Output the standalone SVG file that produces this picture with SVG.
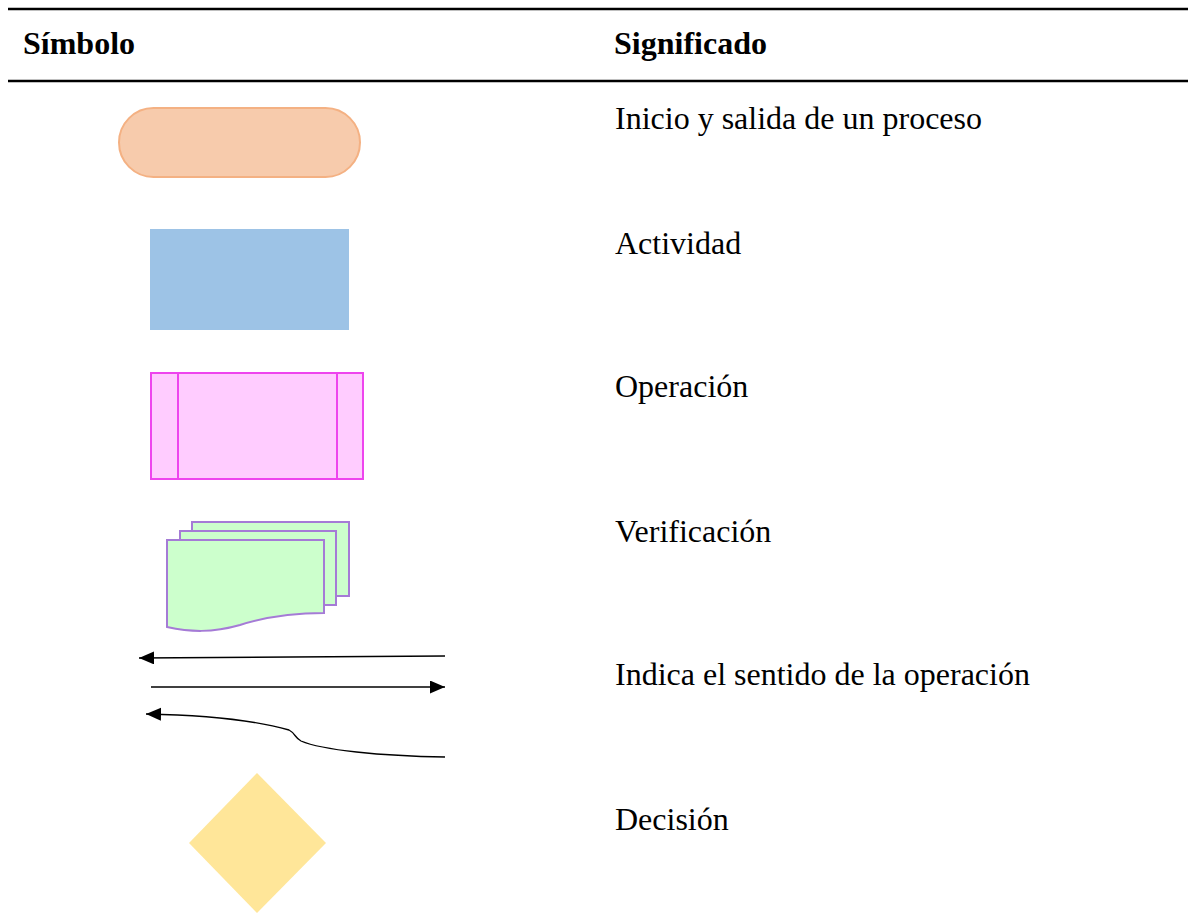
<svg xmlns="http://www.w3.org/2000/svg" width="1188" height="923" viewBox="0 0 1188 923">
<defs>
<style>
.hd{font-family:"Liberation Serif","Times New Roman",serif;font-weight:bold;font-size:32px;fill:#000}
.tx{font-family:"Liberation Serif","Times New Roman",serif;font-size:32px;fill:#000}
.rule{stroke:#000;stroke-width:2.5}
.arr{fill:none;stroke:#000;stroke-width:1.3}
.page{fill:#CCFFCC;stroke:#A57BD6;stroke-width:2}
</style>
<marker id="ah" markerUnits="userSpaceOnUse" markerWidth="16" markerHeight="14" refX="15" refY="6.5" orient="auto">
<path d="M0,0 L15,6.5 L0,13 Z" fill="#000"/>
</marker>
</defs>
<rect width="1188" height="923" fill="#fff"/>
<g id="header">
<line class="rule" x1="8" y1="9" x2="1188" y2="9"/>
<line class="rule" x1="8" y1="81" x2="1188" y2="81"/>
<text class="hd" x="23" y="54">Símbolo</text>
<text class="hd" x="614" y="54">Significado</text>
</g>
<g id="inicio">
<rect x="119" y="108" width="241" height="69" rx="34.5" fill="#F7CBAC" stroke="#F4B183" stroke-width="2"/>
<text class="tx" x="615" y="129">Inicio y salida de un proceso</text>
</g>
<g id="actividad">
<rect x="150" y="229" width="199" height="101" fill="#9DC3E6"/>
<text class="tx" x="615" y="254">Actividad</text>
</g>
<g id="operacion">
<rect x="151" y="373" width="212" height="106" fill="#FFCCFF" stroke="#EE44EE" stroke-width="2"/>
<line x1="178" y1="373" x2="178" y2="479" stroke="#EE44EE" stroke-width="2"/>
<line x1="337" y1="373" x2="337" y2="479" stroke="#EE44EE" stroke-width="2"/>
<text class="tx" x="615" y="397">Operación</text>
</g>
<g id="verificacion">
<rect class="page" x="192" y="522" width="157" height="74"/>
<rect class="page" x="180" y="531" width="156" height="74"/>
<path class="page" d="M167,540 H324 V613 C290,613 262,618 240,625 C212,633 190,632 167,627 Z"/>
<text class="tx" x="615" y="542">Verificación</text>
</g>
<g id="connectors">
<line class="arr" x1="445" y1="656" x2="139" y2="658" marker-end="url(#ah)"/>
<line class="arr" x1="151" y1="687" x2="445" y2="687" marker-end="url(#ah)"/>
<path class="arr" d="M445,757 C380,756 322,750 301,741 C295,738 295,733 289,730 C250,719 200,715 146,714" marker-end="url(#ah)"/>
</g>
<g id="sentido">
<text class="tx" x="615" y="685">Indica el sentido de la operación</text>
</g>
<g id="decision">
<polygon points="257,773 326,843 257,913 189,843" fill="#FFE699"/>
<text class="tx" x="615" y="830">Decisión</text>
</g>
</svg>
